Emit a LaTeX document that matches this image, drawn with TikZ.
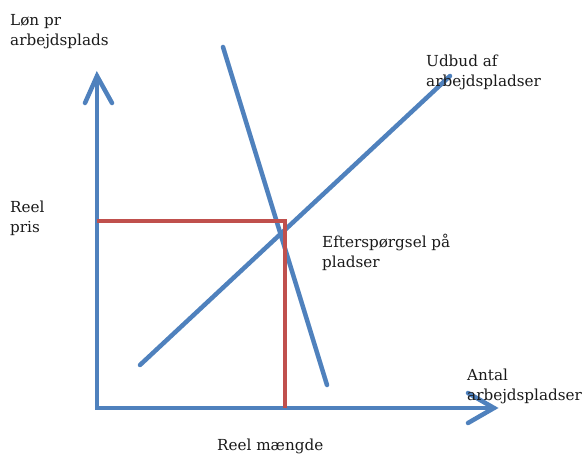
\documentclass[tikz,border=0pt]{standalone}
\usepackage{fontspec}
\setmainfont{DejaVu Serif}
\definecolor{offblue}{HTML}{4F81BD}
\definecolor{offred}{HTML}{C0504D}
\definecolor{txt}{HTML}{1A1A1A}
\begin{document}
\begin{tikzpicture}[x=1pt,y=-1pt,
  bline/.style={draw=offblue,line width=4.5pt,line cap=round},
  rline/.style={draw=offred,line width=4.5pt,line join=miter},
  lbl/.style={anchor=base west,inner sep=0pt,align=left,text=txt,
    font=\fontsize{15.2}{20}\selectfont}]
\useasboundingbox (0,0) rectangle (587,457);
% key points
\coordinate (O) at (97,408);
\coordinate (Ytip) at (97,76);
\coordinate (Xtip) at (494,408);
\coordinate (Yl) at (85,103);
\coordinate (Yr) at (112,103);
\coordinate (Xu) at (468,393);
\coordinate (Xd) at (468,423);
\coordinate (S1) at (140,365);
\coordinate (S2) at (450,76);
\coordinate (D1) at (223,47);
\coordinate (D2) at (327,385);
\coordinate (P) at (97,221);
\coordinate (E) at (285,221);
\coordinate (Q) at (285,408);
% axes
\draw[bline] (Ytip) -- (O) -- (Xtip);
\draw[bline] (Yl) -- (Ytip) -- (Yr);
\draw[bline] (Xu) -- (Xtip) -- (Xd);
% curves
\draw[bline] (S1) -- (S2);
\draw[bline] (D1) -- (D2);
% equilibrium
\draw[rline] (P) -- (E) -- (Q);
% labels (base anchor = last line's baseline)
\node[lbl] (ylab) at (10,46) {Løn pr\\arbejdsplads};
\node[lbl] (slab) at (426,87) {Udbud af\\arbejdspladser};
\node[lbl] (plab) at (10,233) {Reel\\pris};
\node[lbl] (dlab) at (322,268) {Efterspørgsel på\\pladser};
\node[lbl] (xlab) at (467,400) {Antal\\arbejdspladser};
\node[lbl] (qlab) at (217,450) {Reel mængde};
\end{tikzpicture}
\end{document}
